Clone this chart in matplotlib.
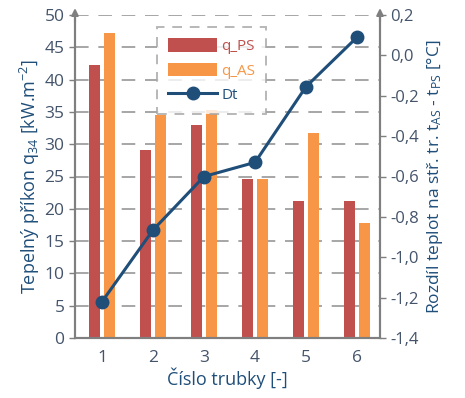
import matplotlib
matplotlib.use("Agg")
import matplotlib.pyplot as plt
import numpy as np
from matplotlib.ticker import FuncFormatter

# data
trubky = [1, 2, 3, 4, 5, 6]
q_ps = [42.3, 29.1, 33.0, 24.6, 21.2, 21.2]
q_as = [47.2, 34.5, 35.3, 24.6, 31.7, 17.8]
dt = [-1.22, -0.865, -0.60, -0.53, -0.155, 0.09]

c_ps = "#C0504D"
c_as = "#F79646"
c_dt = "#1F4E79"
c_txt = "#1F4E79"
c_tick = "#44546A"
c_ax = "#7F7F7F"

plt.rcParams['font.family'] = ['Open Sans', 'DejaVu Sans']
plt.rcParams['mathtext.fontset'] = 'custom'
plt.rcParams['mathtext.rm'] = 'Open Sans'
plt.rcParams['mathtext.it'] = 'Open Sans'

fig = plt.figure(figsize=(4.65, 3.98), dpi=100)
ax = fig.add_axes([75/465, 60/398, 305/465, 323/398])
ax2 = ax.twinx()

x = np.array(trubky)
w = 0.22
b1 = ax.bar(x - 0.145, q_ps, w, color=c_ps, label="q_PS", zorder=2)
b2 = ax.bar(x + 0.145, q_as, w, color=c_as, label="q_AS", zorder=2)
l1, = ax2.plot(x, dt, color=c_dt, lw=2.2, marker="o", ms=9, label="Dt", zorder=3)

ax.set_xlim(0.47, 6.45)
ax.set_ylim(0, 50)
ax.set_yticks(range(0, 51, 5))
ax2.set_ylim(-1.4, 0.2)
ax2.set_yticks(np.arange(-1.4, 0.21, 0.2))
ax2.yaxis.set_major_formatter(FuncFormatter(lambda v, p: f"{v:.1f}".replace(".", ",").replace("-0,0", "0,0")))

ax.grid(axis="y", color="#A6A6A6", ls=(0, (7, 5)), lw=1.4, zorder=0)
ax.set_axisbelow(True)

for a in (ax, ax2):
    a.spines["top"].set_visible(False)
    for s in ("left", "right", "bottom"):
        a.spines[s].set_color(c_ax)
        a.spines[s].set_linewidth(1.5)
ax.tick_params(axis="y", colors=c_tick, labelsize=12.5, length=4, width=1, color=c_ax)
ax2.tick_params(axis="y", colors=c_tick, labelsize=12, length=4, width=1, color=c_ax)
ax.tick_params(axis="x", colors=c_tick, labelsize=12.5, length=0, pad=9)
ax.set_xticks(trubky)

# sipky na svislych osach
for xx in (0, 1):
    ax.annotate("", xy=(xx, 1.03), xytext=(xx, 0.97), xycoords="axes fraction",
                arrowprops=dict(arrowstyle="-|>", color=c_ax, lw=1.5))

ax.set_ylabel(r"Tepelný příkon q$_{34}$ [kW.m$^{-2}$]", color=c_txt, fontsize=13, labelpad=2)
ax2.set_ylabel(r"Rozdíl teplot na stř. tr. t$_{\mathrm{AS}}$ - t$_{\mathrm{PS}}$ [°C]", color=c_txt, fontsize=12.5, labelpad=4)
ax.set_xlabel("Číslo trubky [-]", color=c_txt, fontsize=13, labelpad=1)

leg = ax2.legend([b1, b2, l1], ["q_PS", "q_AS", "Dt"], loc="upper left",
                 bbox_to_anchor=(0.245, 0.985), fontsize=11, frameon=True,
                 fancybox=False, handlelength=3.2, handleheight=1.0, handletextpad=0.3,
                 borderpad=0.7, labelspacing=0.55)
fr = leg.get_frame()
fr.set_edgecolor("#A6A6A6")
fr.set_linestyle((0, (5, 4)))
fr.set_linewidth(1.4)
fr.set_facecolor("white")
for t, c in zip(leg.get_texts(), [c_ps, c_as, c_dt]):
    t.set_color(c)

fig.savefig("out.png", dpi=100)
